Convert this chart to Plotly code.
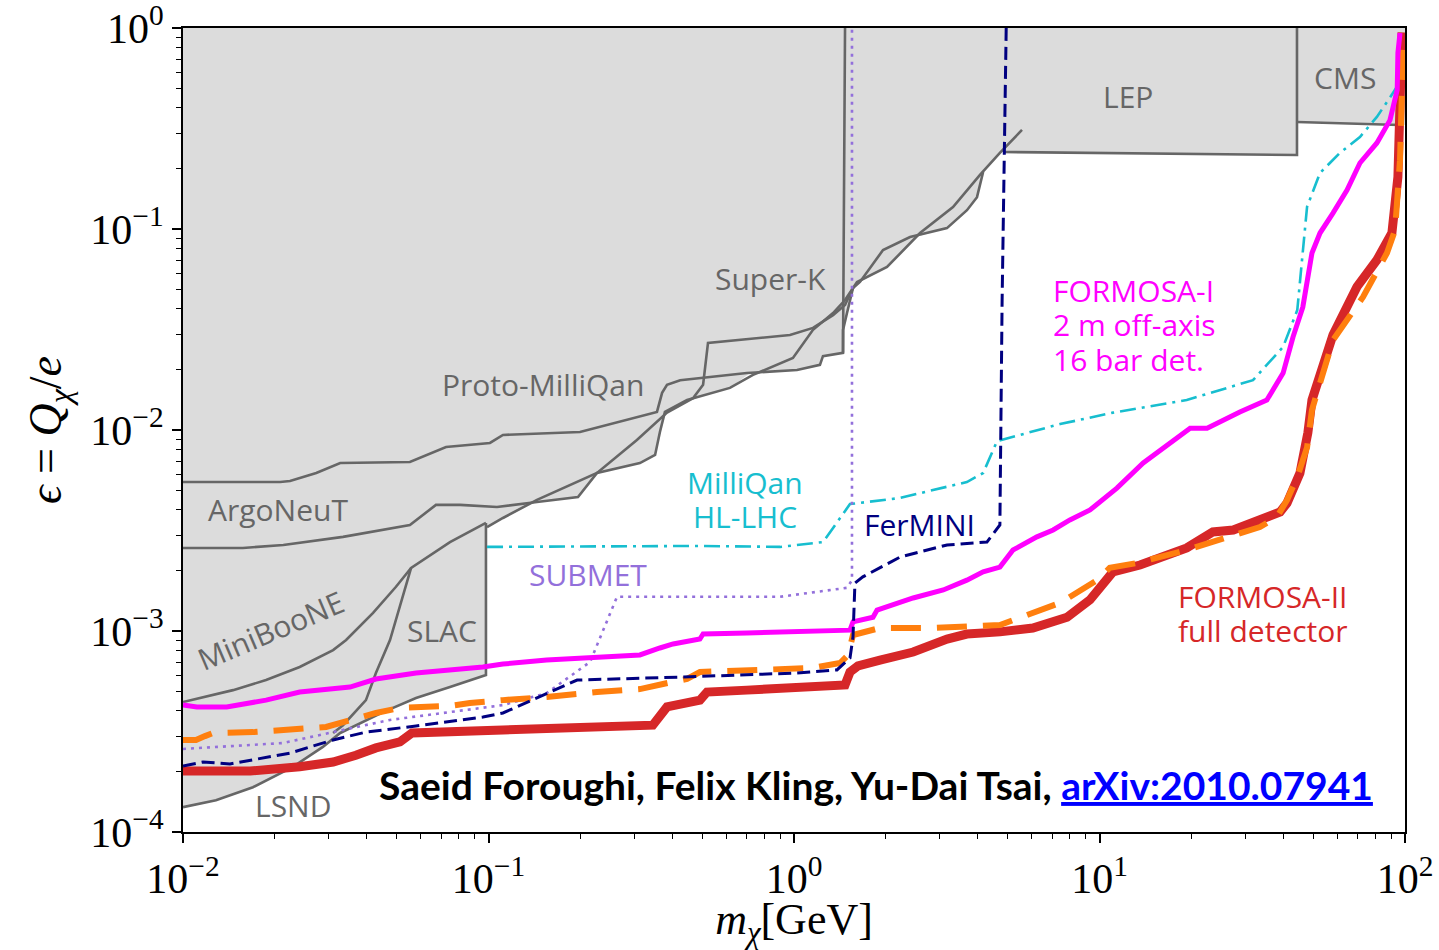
import numpy as np
import plotly.graph_objects as go

# ---------------- projected sensitivities ----------------
# FORMOSA-II, full detector (solid red)
f2_m = [0.01, 0.0166, 0.0241, 0.031, 0.0368, 0.0428, 0.0513, 0.0545, 0.0562, 0.1115,
        0.155, 0.345, 0.364, 0.384, 0.492, 0.519, 0.701, 1.023, 1.469, 1.525,
        1.62, 1.912, 2.455, 3.17, 3.68, 4.72, 6.05, 7.83, 9.31, 11.07,
        13.57, 19.3, 23.5, 27.4, 33.5, 39.0, 41.1, 45.3, 48.1, 49.6,
        58.1, 69.6, 80.9, 90.6, 94.8, 96.3, 97.8]
f2_eps = [2.01e-4, 2.01e-4, 2.11e-4, 2.23e-4, 2.41e-4, 2.62e-4, 2.81e-4, 2.97e-4, 3.11e-4, 3.22e-4,
          3.29e-4, 3.40e-4, 3.78e-4, 4.19e-4, 4.53e-4, 4.97e-4, 5.08e-4, 5.20e-4, 5.39e-4, 6.25e-4,
          6.70e-4, 7.17e-4, 7.86e-4, 9.12e-4, 9.66e-4, 9.9e-4, 1.035e-3, 1.17e-3, 1.43e-3, 1.97e-3,
          2.13e-3, 2.59e-3, 3.11e-3, 3.18e-3, 3.57e-3, 3.91e-3, 4.33e-3, 6.1e-3, 9.7e-3, 0.0141,
          0.0297, 0.0515, 0.0701, 0.0955, 0.1815, 0.348, 0.95]

# FORMOSA-II, second configuration (dashed orange)
f2b_m = [0.01, 0.01103, 0.0118, 0.01254, 0.01694, 0.0253, 0.0294, 0.0428, 0.0513, 0.0748,
         0.0869, 0.1115, 0.155, 0.2265, 0.313, 0.3725, 0.4467, 0.492, 0.701, 1.153,
         1.415, 1.503, 1.56, 1.912, 2.85, 3.49, 4.72, 5.79, 7.43, 8.19,
         9.82, 10.8, 13.3, 19.3, 26.1, 33.5, 38.1, 41.1, 44.4, 47.8,
         49.6, 58.1, 72.9, 87.3, 92.8, 96.3, 97.8, 98.5]
f2b_eps = [2.87e-4, 2.87e-4, 3.00e-4, 3.11e-4, 3.14e-4, 3.25e-4, 3.33e-4, 3.91e-4, 4.14e-4, 4.24e-4,
           4.38e-4, 4.53e-4, 4.69e-4, 4.97e-4, 5.14e-4, 5.45e-4, 5.77e-4, 6.25e-4, 6.40e-4, 6.55e-4,
           6.93e-4, 7.6e-4, 9.55e-4, 1.035e-3, 1.035e-3, 1.047e-3, 1.071e-3, 1.20e-3, 1.38e-3, 1.51e-3,
           1.79e-3, 2.06e-3, 2.18e-3, 2.53e-3, 2.94e-3, 3.29e-3, 3.69e-3, 4.48e-3, 5.84e-3, 8.2e-3,
           0.0126, 0.0280, 0.0459, 0.0760, 0.0989, 0.220, 0.508, 0.923]

# FORMOSA-I, 2 m off-axis, 16 bar detector (magenta)
f1_m = [0.01, 0.0111, 0.0139, 0.0187, 0.0241, 0.0352, 0.0428, 0.0579, 0.0959, 0.1115,
        0.155, 0.313, 0.364, 0.402, 0.492, 0.504, 0.701, 1.153, 1.525, 1.56,
        1.814, 1.87, 2.22, 2.455, 3.08, 3.68, 4.16, 4.72, 5.21, 6.24,
        7.05, 8.0, 9.31, 11.4, 13.9, 15.8, 19.8, 22.5, 28.8, 35.3,
        39.9, 43.0, 46.3, 49.6, 52.7, 58.1, 64.6, 71.2, 80.9, 89.3,
        94.3, 94.8, 96.3]
f1_eps = [4.28e-4, 4.19e-4, 4.19e-4, 4.53e-4, 4.97e-4, 5.26e-4, 5.77e-4, 6.18e-4, 6.62e-4, 6.85e-4,
          7.17e-4, 7.60e-4, 8.23e-4, 8.62e-4, 9.12e-4, 9.66e-4, 9.77e-4, 1.0e-3, 1.01e-3, 1.11e-3,
          1.17e-3, 1.27e-3, 1.38e-3, 1.46e-3, 1.60e-3, 1.79e-3, 1.97e-3, 2.08e-3, 2.53e-3, 2.94e-3,
          3.18e-3, 3.57e-3, 4.0e-3, 5.14e-3, 6.85e-3, 7.95e-3, 0.0102, 0.0102, 0.0123, 0.0141,
          0.0192, 0.0290, 0.0409, 0.0760, 0.0955, 0.120, 0.156, 0.213, 0.268, 0.348,
          0.492, 0.751, 0.944]

# MilliQan at the HL-LHC (dash-dot cyan)
mq_m = [0.0989, 0.492, 0.9, 1.245, 1.525, 2.22, 3.68, 4.16, 4.62, 7.43,
        11.07, 19.3, 31.8, 39.9, 44.4, 46.0, 47.8, 52.7, 61.2, 71.2,
        80.9, 91.3, 96.3]
mq_eps = [2.62e-3, 2.65e-3, 2.62e-3, 2.77e-3, 4.28e-3, 4.59e-3, 5.51e-3, 6.11e-3, 8.81e-3, 0.0107,
          0.0122, 0.0141, 0.0177, 0.0259, 0.0395, 0.0677, 0.129, 0.190, 0.239, 0.287,
          0.361, 0.475, 0.539]

# FerMINI (dashed navy)
fm_m = [0.01, 0.01163, 0.01425, 0.0224, 0.031, 0.0397, 0.0579, 0.0959, 0.1115, 0.195,
        0.424, 1.023, 1.382, 1.525, 1.56, 1.583, 1.68, 2.22, 3.17, 4.28,
        4.72, 4.80, 4.95]
fm_eps = [2.13e-4, 2.23e-4, 2.18e-4, 2.47e-4, 2.87e-4, 3.14e-4, 3.37e-4, 3.73e-4, 3.91e-4, 5.70e-4,
          5.90e-4, 6.18e-4, 6.40e-4, 7.34e-4, 9.34e-4, 1.73e-3, 1.86e-3, 2.33e-3, 2.68e-3, 2.77e-3,
          3.37e-3, 0.0443, 1.0]

# SUBMET (dotted purple)
sm_m = [0.01, 0.02125, 0.0334, 0.0476, 0.0748, 0.1115, 0.155, 0.215, 0.2634, 0.9,
        1.49, 1.548, 1.548]
sm_eps = [2.59e-4, 2.77e-4, 3.22e-4, 3.61e-4, 3.95e-4, 4.28e-4, 4.91e-4, 7.01e-4, 1.48e-3, 1.48e-3,
          1.64e-3, 1.79e-3, 1.0]

# ---------------- existing bounds (grey) ----------------
# union of excluded regions
excl_m = [0.01, 0.01282, 0.01694, 0.0229, 0.0287, 0.0327, 0.0452, 0.0579, 0.0748, 0.0981,
          0.0981, 0.1115, 0.1441, 0.1963, 0.2266, 0.313, 0.351, 0.364, 0.378, 0.4467,
          0.617, 0.718, 1.023, 1.216, 1.244, 1.447, 1.447, 1.491, 1.56, 1.644,
          2.016, 2.49, 3.167, 3.683, 3.972, 4.16, 4.72, 4.832, 44.3, 44.3,
          96.3, 100, 100, 0.01]
excl_eps = [1.33e-4, 1.44e-4, 1.67e-4, 2.11e-4, 2.65e-4, 3.11e-4, 3.95e-4, 4.64e-4, 5.26e-4, 6.04e-4,
            3.29e-3, 3.65e-3, 4.40e-3, 4.64e-3, 6.11e-3, 6.85e-3, 7.51e-3, 9.77e-3, 0.0123, 0.0141,
            0.0162, 0.0192, 0.0199, 0.0211, 0.0233, 0.0242, 0.0315, 0.0382, 0.0509, 0.0545,
            0.0647, 0.0912, 0.101, 0.124, 0.144, 0.192, 0.239, 0.2416, 0.2335, 0.3405,
            0.329, 0.329, 1.0, 1.0]

# ArgoNeuT upper edge, continuing into the Super-K vertical edge
argo_hi_m = [0.01, 0.0208, 0.0224, 0.0273, 0.0327, 0.0553, 0.0726, 0.1011, 0.1115, 0.1993,
             0.356, 0.370, 0.384, 0.424, 0.701, 1.023, 1.216, 1.244, 1.447, 1.469]
argo_hi_eps = [0.00551, 0.00551, 0.00557, 0.00611, 0.00685, 0.00693, 0.00823, 0.00862, 0.00945, 0.00977,
               0.0123, 0.0153, 0.0168, 0.0177, 0.0192, 0.0199, 0.0211, 0.0233, 0.0242, 1.0]

# ArgoNeuT lower edge, continuing along the diagonal bound
argo_lo_m = [0.01, 0.0157, 0.0213, 0.0334, 0.0553, 0.0673, 0.0807, 0.1066, 0.1441, 0.1963,
             0.2266, 0.313, 0.351, 0.364, 0.378, 0.4467, 0.617, 0.734, 0.992, 1.154,
             1.342, 1.469, 1.608, 2.016, 2.585, 3.315, 4.062, 4.72, 5.575]
argo_lo_eps = [0.00259, 0.00259, 0.00268, 0.00294, 0.00337, 0.00424, 0.00424, 0.00414, 0.00438, 0.00464,
               0.00611, 0.00685, 0.00751, 0.00977, 0.0123, 0.0141, 0.0162, 0.0188, 0.0228, 0.0315,
               0.0382, 0.0443, 0.0545, 0.0647, 0.0955, 0.1287, 0.186, 0.239, 0.311]

# Proto-MilliQan / Super-K edge
proto_m = [0.0989, 0.1115, 0.1441, 0.2266, 0.306, 0.384, 0.467, 0.504, 0.523, 0.970,
           1.154, 1.342, 1.469, 1.56, 1.644, 1.956, 2.398, 3.167, 3.683, 3.972, 4.16]
proto_eps = [0.00329, 0.00365, 0.00449, 0.00611, 0.00892, 0.0122, 0.0144, 0.0168, 0.0271, 0.0297,
             0.0322, 0.0373, 0.0419, 0.0509, 0.0545, 0.0786, 0.0912, 0.101, 0.124, 0.144, 0.192]

superk_m = [1.447, 1.447, 1.491, 1.56]
superk_eps = [0.0242, 0.0315, 0.0382, 0.0509]

miniboone_m = [0.01, 0.01458, 0.0187, 0.0241, 0.031, 0.0342, 0.0419, 0.0498, 0.0558, 0.0748, 0.0981]
miniboone_eps = [4.43e-4, 5.08e-4, 5.70e-4, 6.62e-4, 8.04e-4, 9.02e-4, 1.23e-3, 1.66e-3, 2.06e-3, 2.77e-3, 3.45e-3]

lsnd_m = [0.01, 0.01282, 0.01694, 0.0229, 0.0287, 0.0327, 0.0452, 0.0579, 0.0748, 0.0981, 0.0981]
lsnd_eps = [1.33e-4, 1.44e-4, 1.67e-4, 2.11e-4, 2.65e-4, 3.11e-4, 3.95e-4, 4.64e-4, 5.26e-4, 6.04e-4, 3.45e-3]

slac_m = [0.0558, 0.0476, 0.0428, 0.0397, 0.0334, 0.031]
slac_eps = [2.06e-3, 9.02e-4, 6.18e-4, 4.53e-4, 3.40e-4, 3.11e-4]

lep_m = [4.832, 44.3, 44.3]
lep_eps = [0.2416, 0.2335, 1.0]

cms_m = [44.3, 96.3]
cms_eps = [0.3405, 0.329]

fig = go.Figure()

fig.add_trace(go.Scatter(x=excl_m, y=excl_eps, mode="lines", fill="toself",
                         fillcolor="#dcdcdc", line=dict(width=0),
                         hoverinfo="skip", showlegend=False))

grey_line = dict(color="#666666", width=2.6)
for bm, be in [(argo_hi_m, argo_hi_eps), (argo_lo_m, argo_lo_eps), (proto_m, proto_eps),
               (superk_m, superk_eps), (miniboone_m, miniboone_eps), (lsnd_m, lsnd_eps),
               (slac_m, slac_eps), (lep_m, lep_eps), (cms_m, cms_eps)]:
    fig.add_trace(go.Scatter(x=bm, y=be, mode="lines", line=grey_line,
                             hoverinfo="skip", showlegend=False))

curves = [
    (mq_m, mq_eps, dict(color="#17becf", width=2.6, dash="16px,6px,3px,6px")),
    (sm_m, sm_eps, dict(color="#9370db", width=2.6, dash="3px,5px")),
    (f2_m, f2_eps, dict(color="#d62728", width=9)),
    (f2b_m, f2b_eps, dict(color="#ff7f0e", width=6, dash="30px,16px")),
    (f1_m, f1_eps, dict(color="#ff00ff", width=5)),
    (fm_m, fm_eps, dict(color="#000080", width=3, dash="13px,6px")),
]
for cm, ce, ln in curves:
    fig.add_trace(go.Scatter(x=cm, y=ce, mode="lines", line=ln,
                             hoverinfo="skip", showlegend=False))

label_font = "Open Sans, Noto Sans, sans-serif"


def label(text, m, eps, color, size=30, xanchor="center", angle=0):
    return dict(text=text, x=np.log10(m), y=np.log10(eps), xref="x", yref="y",
                showarrow=False, xanchor=xanchor, yanchor="middle", textangle=angle,
                borderpad=0, font=dict(family=label_font, size=size, color=color))


annotations = [
    label("LEP", 12.4, 0.454, "#666666"),
    label("CMS", 63.6, 0.570, "#666666"),
    label("Super-K", 0.835, 0.0564, "#666666"),
    label("Proto-MilliQan", 0.151, 0.0169, "#666666"),
    label("ArgoNeuT", 0.0205, 0.0040, "#666666"),
    label("MiniBooNE", 0.0193, 1.01e-3, "#666666", angle=-23),
    label("SLAC", 0.0705, 1.01e-3, "#666666"),
    label("LSND", 0.0229, 1.36e-4, "#666666"),
    label("MilliQan", 0.69, 5.45e-3, "#17becf"),
    label("HL-LHC", 0.69, 3.73e-3, "#17becf"),
    label("SUBMET", 0.212, 1.92e-3, "#9370db"),
    label("FerMINI", 2.58, 3.4e-3, "#000080"),
    label("FORMOSA-I", 6.99, 0.0497, "#ff00ff", xanchor="left"),
    label("2 m off-axis", 6.99, 0.0333, "#ff00ff", xanchor="left"),
    label("16 bar det.", 6.99, 0.02255, "#ff00ff", xanchor="left"),
    label("FORMOSA-II", 17.9, 1.49e-3, "#d62728", xanchor="left"),
    label("full detector", 17.9, 1.01e-3, "#d62728", xanchor="left"),
    dict(text="<b>Saeid Foroughi, Felix Kling, Yu-Dai Tsai, "
              "<span style='color:#0000ff'><u>arXiv:2010.07941</u></span></b>",
         x=np.log10(79.8), y=np.log10(1.71e-4), xref="x", yref="y", showarrow=False,
         xanchor="right", yanchor="middle",
         font=dict(family="Lato, sans-serif", size=39, color="black")),
]

serif = "Liberation Serif, DejaVu Serif, serif"
major_x = [0.01, 0.1, 1, 10, 100]
major_x_text = ["10<sup>−2</sup>", "10<sup>−1</sup>", "10<sup>0</sup>", "10<sup>1</sup>", "10<sup>2</sup>"]
major_y = [1e-4, 1e-3, 1e-2, 1e-1, 1]
major_y_text = ["10<sup>−4</sup>", "10<sup>−3</sup>", "10<sup>−2</sup>", "10<sup>−1</sup>", "10<sup>0</sup>"]
minor_x = [k * 10.0 ** p for p in range(-2, 2) for k in range(2, 10)]
minor_y = [k * 10.0 ** p for p in range(-4, 0) for k in range(2, 10)]

axis_common = dict(type="log", showgrid=False, zeroline=False, showline=True,
                   linecolor="black", linewidth=2, mirror=True, ticks="outside",
                   ticklen=9, tickwidth=1.6, tickcolor="black", automargin=False,
                   ticklabeloverflow="allow",
                   tickfont=dict(family=serif, size=42, color="black"))

fig.update_layout(
    width=1439, height=950,
    margin=dict(l=183, r=34, t=28, b=118, autoexpand=False),
    paper_bgcolor="white", plot_bgcolor="white",
    xaxis=dict(axis_common, range=[-2, 2], tickmode="array", tickvals=major_x,
               ticktext=major_x_text,
               minor=dict(tickmode="array", tickvals=minor_x, ticks="outside",
                          ticklen=5, tickwidth=1.3, tickcolor="black"),
               title=dict(text="<i>m</i><sub><i>χ</i></sub>[GeV]", standoff=6,
                          font=dict(family=serif, size=44, color="black"))),
    yaxis=dict(axis_common, range=[-4, 0], tickmode="array", tickvals=major_y,
               ticktext=major_y_text,
               minor=dict(tickmode="array", tickvals=minor_y, ticks="outside",
                          ticklen=5, tickwidth=1.3, tickcolor="black"),
               title=dict(text="<i>ϵ</i> = <i>Q</i><sub><i>χ</i></sub>/<i>e</i>", standoff=14,
                          font=dict(family=serif, size=46, color="black"))),
    annotations=annotations,
    showlegend=False,
)

fig.write_html("out.html")
